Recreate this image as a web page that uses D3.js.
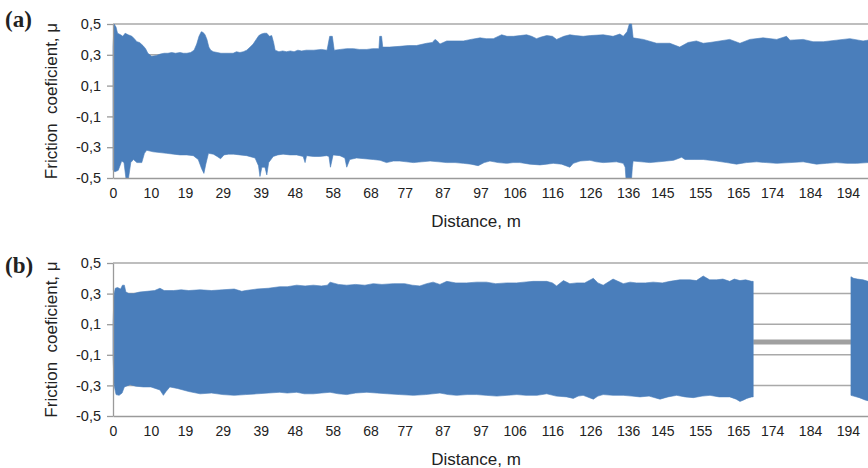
<!DOCTYPE html>
<html>
<head>
<meta charset="utf-8">
<script src="https://cdn.jsdelivr.net/npm/d3@7"></script>
<style>
  html, body { margin: 0; padding: 0; background: #fff; }
  svg { display: block; }
  text { font-family: "Liberation Sans", Arial, Helvetica, sans-serif; fill: #222; }
</style>
</head>
<body>
<svg id="chart" width="868" height="468"></svg>
<script>
// ---------------- DATA ----------------
const xTickValues = [0,10,19,29,39,48,58,68,77,87,97,106,116,126,136,145,155,165,174,184,194];
const yTickValues = [-0.5,-0.3,-0.1,0.1,0.3,0.5];
const yTickLabels = ["-0,5","-0,3","-0,1","0,1","0,3","0,5"];

// Panel (a): envelope of the friction signal, [distance m, mu]
const upperA = [[0,0.35],[0.3,0.50],[0.8,0.48],[1.2,0.44],[2.0,0.43],[2.6,0.42],[3.2,0.44],[4.0,0.43],[5.0,0.42],[5.8,0.40],[6.3,0.385],[7.0,0.38],[7.9,0.36],[8.6,0.34],[9.2,0.31],[10.2,0.29],[11.5,0.295],[12.5,0.305],[13.5,0.31],[14.5,0.31],[15.5,0.315],[16.5,0.31],[17.7,0.315],[18.6,0.31],[19.5,0.31],[20.5,0.315],[21.4,0.33],[22.1,0.37],[22.7,0.42],[23.3,0.45],[23.8,0.445],[24.3,0.43],[24.8,0.40],[25.3,0.35],[25.8,0.33],[26.5,0.32],[27.5,0.315],[28.5,0.31],[29.5,0.31],[30.5,0.31],[31.7,0.31],[32.6,0.32],[33.5,0.315],[34.4,0.32],[35.3,0.33],[36.2,0.35],[37.0,0.37],[37.8,0.40],[38.5,0.425],[39.2,0.435],[39.9,0.44],[40.6,0.44],[41.3,0.42],[41.9,0.425],[42.4,0.38],[42.8,0.33],[43.8,0.32],[44.8,0.325],[45.8,0.32],[46.8,0.325],[47.8,0.32],[48.8,0.33],[49.8,0.325],[51,0.33],[53,0.33],[55,0.335],[56.5,0.33],[57.2,0.42],[57.9,0.42],[58.4,0.33],[60,0.335],[61.7,0.34],[63.5,0.34],[65,0.335],[67,0.335],[68.5,0.34],[70.2,0.34],[70.4,0.42],[70.9,0.42],[71.2,0.35],[73,0.35],[75.7,0.355],[78,0.36],[80.1,0.36],[82.8,0.375],[84.3,0.38],[85,0.40],[85.6,0.39],[86.3,0.37],[88.1,0.39],[90,0.39],[92.5,0.39],[94.5,0.40],[96.9,0.41],[98.5,0.405],[100.4,0.405],[102.6,0.43],[104,0.42],[105.7,0.42],[107.5,0.425],[109.2,0.43],[110.5,0.42],[111.8,0.405],[113,0.415],[114.5,0.425],[116,0.42],[117.1,0.40],[119,0.42],[120.6,0.43],[122,0.425],[124.1,0.42],[126,0.425],[129.4,0.43],[132,0.42],[133.8,0.435],[134.7,0.42],[135.7,0.45],[136.3,0.50],[136.9,0.50],[137.3,0.41],[140,0.40],[143.5,0.375],[147,0.375],[149.6,0.35],[151.8,0.38],[154,0.39],[155.8,0.375],[157.6,0.38],[160.2,0.39],[162.8,0.40],[165.5,0.375],[168.1,0.40],[171.6,0.41],[175.2,0.40],[177.8,0.42],[178.7,0.395],[182.2,0.40],[184.8,0.385],[187.5,0.385],[191,0.395],[194.5,0.405],[198,0.39],[199.3,0.395]];
const lowerA = [[0,-0.45],[0.5,-0.46],[1.4,-0.45],[2.3,-0.39],[2.9,-0.40],[3.4,-0.50],[4.1,-0.50],[4.7,-0.40],[5.4,-0.38],[6.3,-0.40],[7.6,-0.40],[8.3,-0.34],[8.9,-0.32],[10.6,-0.33],[12.4,-0.335],[14.2,-0.34],[16,-0.345],[17.7,-0.35],[19.5,-0.35],[21.2,-0.355],[22.5,-0.38],[23.4,-0.44],[24,-0.47],[24.5,-0.41],[25.2,-0.34],[26.5,-0.345],[27.5,-0.36],[28.4,-0.375],[29.3,-0.35],[30.5,-0.345],[31.8,-0.345],[33.5,-0.35],[35.3,-0.355],[37.5,-0.37],[38.4,-0.42],[38.8,-0.49],[39.3,-0.43],[40.1,-0.43],[40.6,-0.48],[41.1,-0.40],[42.3,-0.36],[43.5,-0.35],[44.9,-0.345],[46.7,-0.35],[48.5,-0.35],[50.2,-0.36],[50.7,-0.40],[51.1,-0.355],[52.9,-0.36],[54.6,-0.36],[56.4,-0.355],[57.0,-0.36],[57.4,-0.43],[58.1,-0.35],[59.9,-0.355],[61.2,-0.37],[61.7,-0.43],[62.5,-0.38],[64.3,-0.37],[66.5,-0.375],[68.7,-0.38],[70.5,-0.385],[72.2,-0.40],[74,-0.39],[75.7,-0.39],[77.5,-0.395],[79.3,-0.40],[81.5,-0.395],[83.7,-0.39],[86,-0.395],[88.1,-0.40],[90.3,-0.40],[92.5,-0.405],[94.5,-0.41],[96.4,-0.42],[98,-0.40],[99.5,-0.39],[101.7,-0.40],[103.9,-0.405],[105.6,-0.40],[107.4,-0.40],[110,-0.41],[112.7,-0.415],[114.5,-0.41],[116.2,-0.405],[118.4,-0.41],[120.6,-0.43],[121.5,-0.405],[123.3,-0.39],[125.9,-0.385],[127.6,-0.395],[129.4,-0.40],[132.9,-0.395],[134.7,-0.405],[135.2,-0.43],[135.4,-0.50],[136.9,-0.50],[137.1,-0.43],[137.3,-0.39],[139.5,-0.395],[141.7,-0.40],[144,-0.395],[146.1,-0.39],[148,-0.385],[150.1,-0.365],[151,-0.38],[153.4,-0.38],[155.8,-0.38],[157.6,-0.385],[159.3,-0.39],[162,-0.40],[164.6,-0.41],[167.2,-0.40],[169.9,-0.395],[172.5,-0.40],[175.2,-0.405],[178.7,-0.40],[182.2,-0.395],[185.7,-0.41],[188.4,-0.405],[191,-0.40],[193.7,-0.405],[196.3,-0.405],[199.3,-0.40]];

// Panel (b): envelope, with a stop between the two idle markers
const upperB = [[0,0.10],[0.3,0.30],[0.6,0.335],[1.2,0.34],[2.0,0.33],[2.5,0.355],[3.0,0.355],[3.4,0.31],[4.2,0.30],[5.4,0.30],[7,0.31],[9,0.315],[11,0.32],[12.4,0.335],[13.5,0.32],[16,0.32],[18,0.325],[20,0.32],[23,0.325],[26,0.32],[29,0.325],[32,0.33],[34,0.315],[35,0.32],[38,0.33],[41,0.335],[44,0.345],[46,0.345],[48.5,0.355],[50.7,0.35],[52.9,0.355],[55,0.35],[56.6,0.355],[57.3,0.375],[59.5,0.36],[61.7,0.355],[64,0.36],[66.5,0.355],[68.7,0.365],[71,0.36],[74,0.365],[77,0.365],[79,0.355],[81,0.35],[82.8,0.365],[84.5,0.375],[86.3,0.36],[88.1,0.38],[90.5,0.37],[93.3,0.37],[96,0.375],[98.6,0.375],[101,0.365],[103.9,0.37],[106.5,0.37],[108.5,0.375],[110.9,0.38],[112.7,0.38],[114.5,0.38],[116,0.37],[117.1,0.35],[118.9,0.385],[120.6,0.365],[122.4,0.37],[124.5,0.37],[126.8,0.40],[128,0.37],[129.4,0.355],[132,0.395],[134.7,0.365],[136.5,0.375],[138.2,0.37],[140.5,0.37],[142.6,0.375],[145,0.37],[147,0.38],[149.6,0.39],[152.3,0.39],[154,0.385],[155.8,0.415],[157.5,0.39],[159.3,0.39],[161,0.395],[162.8,0.38],[164,0.395],[165.5,0.385],[167,0.39],[168.6,0.38],[169,0.38],[194.8,0.41],[195.5,0.40],[196.5,0.395],[198,0.39],[199.3,0.38]];
const lowerB = [[0,-0.10],[0.3,-0.30],[0.8,-0.36],[1.6,-0.365],[2.4,-0.35],[3.0,-0.31],[4.5,-0.295],[6,-0.305],[8,-0.31],[10,-0.31],[12.4,-0.33],[13.3,-0.365],[14,-0.34],[15,-0.31],[17,-0.32],[20,-0.34],[23,-0.355],[26,-0.35],[29,-0.36],[32,-0.365],[35,-0.36],[38,-0.355],[41,-0.35],[44,-0.345],[46,-0.35],[48.5,-0.345],[50.5,-0.355],[52.9,-0.355],[55,-0.35],[57.3,-0.345],[59.5,-0.355],[61.7,-0.36],[64,-0.35],[67,-0.345],[69.7,-0.35],[72.5,-0.355],[75.7,-0.36],[79.3,-0.365],[82.5,-0.36],[86.3,-0.35],[88.5,-0.36],[90.7,-0.365],[93.5,-0.36],[96,-0.36],[98.5,-0.365],[101.3,-0.37],[104,-0.365],[106.6,-0.36],[109,-0.365],[111.9,-0.365],[114.5,-0.355],[117,-0.37],[119.8,-0.375],[121.5,-0.385],[122.8,-0.37],[124.1,-0.365],[126.8,-0.39],[128,-0.37],[129.4,-0.36],[132,-0.365],[134.7,-0.365],[137,-0.37],[139.1,-0.375],[141.5,-0.37],[144.4,-0.39],[146.5,-0.375],[148.8,-0.365],[151,-0.375],[153.2,-0.38],[155.5,-0.37],[157.6,-0.365],[160,-0.375],[162.8,-0.375],[164.5,-0.39],[165.5,-0.405],[166.5,-0.395],[167.3,-0.385],[168.6,-0.375],[169,-0.375],[194.8,-0.365],[195.5,-0.37],[197,-0.38],[198.5,-0.395],[199.3,-0.40]];
// Idle (zero-load) segment in panel (b), drawn in grey
const idleB = [[169,-0.016],[194.8,-0.016]];

// ---------------- DRAW ----------------
const svg = d3.select("#chart");
const blue = "#4a7ebb";
const gridColor = "#a9a9a9";
const axisColor = "#9a9a9a";

const x = d3.scaleLinear().domain([0, 199.3]).range([113, 868]);

const panels = [
  { label: "(a)", top: 24, bottom: 178, upper: upperA, lower: lowerA, idle: null, labelY: 27 },
  { label: "(b)", top: 263, bottom: 416, upper: upperB, lower: lowerB, idle: idleB, labelY: 273 }
];

const line = d3.line();

panels.forEach(p => {
  const y = d3.scaleLinear().domain([-0.5, 0.5]).range([p.bottom, p.top]);
  const g = svg.append("g");

  // gridlines
  g.append("g").attr("class", "grid").selectAll("line")
    .data(yTickValues.filter(v => v > -0.5)).join("line")
    .attr("x1", x.range()[0]).attr("x2", x.range()[1])
    .attr("y1", d => y(d)).attr("y2", d => y(d))
    .attr("stroke", gridColor).attr("stroke-width", 1.5);

  // idle grey line
  if (p.idle) {
    g.append("path")
      .attr("d", line(p.idle.map(d => [x(d[0]), y(d[1])])))
      .attr("stroke", "#a0a0a0").attr("stroke-width", 5).attr("fill", "none");
  }

  // envelope polygons (split at idle gap)
  let segs;
  if (p.idle) {
    const g0 = p.idle[0][0], g1 = p.idle[1][0];
    segs = [
      [p.upper.filter(d => d[0] <= g0), p.lower.filter(d => d[0] <= g0)],
      [p.upper.filter(d => d[0] >= g1), p.lower.filter(d => d[0] >= g1)]
    ];
  } else {
    segs = [[p.upper, p.lower]];
  }
  segs.forEach(([up, lo]) => {
    const pts = up.map(d => [x(d[0]), y(d[1])])
      .concat(lo.slice().reverse().map(d => [x(d[0]), y(d[1])]));
    g.append("path").attr("d", line(pts) + "Z")
      .attr("fill", blue).attr("stroke", blue).attr("stroke-width", 0.6);
  });

  // y axis
  const ya = g.append("g").attr("transform", `translate(${x.range()[0]},0)`)
    .call(d3.axisLeft(y).tickValues(yTickValues).tickFormat((d, i) => yTickLabels[i])
      .tickSize(6).tickPadding(6).tickSizeOuter(0));
  ya.select(".domain").attr("stroke", axisColor).attr("stroke-width", 1.3);
  ya.selectAll(".tick line").attr("stroke", axisColor).attr("stroke-width", 1.3);
  ya.selectAll(".tick text").style("font-size", "14.5px").attr("fill", "#222");

  // x axis
  const xa = g.append("g").attr("transform", `translate(0,${p.bottom})`)
    .call(d3.axisBottom(x).tickValues(xTickValues).tickFormat(d => String(d))
      .tickSize(0).tickPadding(10).tickSizeOuter(0));
  xa.select(".domain").attr("stroke", axisColor).attr("stroke-width", 1.5);
  xa.selectAll(".tick text").style("font-size", "14px").attr("fill", "#222");

  // axis titles
  g.append("text").attr("x", 476).attr("y", p.bottom + 48.5)
    .attr("text-anchor", "middle").style("font-size", "17px").text("Distance, m");
  g.append("text")
    .attr("transform", `translate(57,${(p.top + p.bottom) / 2}) rotate(-90)`)
    .attr("text-anchor", "middle").style("font-size", "17px")
    .attr("xml:space", "preserve").style("white-space", "pre")
    .text("Friction  coeficient, μ");

  // panel label
  svg.append("text").attr("x", 5).attr("y", p.labelY)
    .style("font-family", "'Liberation Serif', 'Times New Roman', serif")
    .style("font-weight", "bold").style("font-size", "23px").attr("fill", "#111")
    .text(p.label);
});
</script>
</body>
</html>
